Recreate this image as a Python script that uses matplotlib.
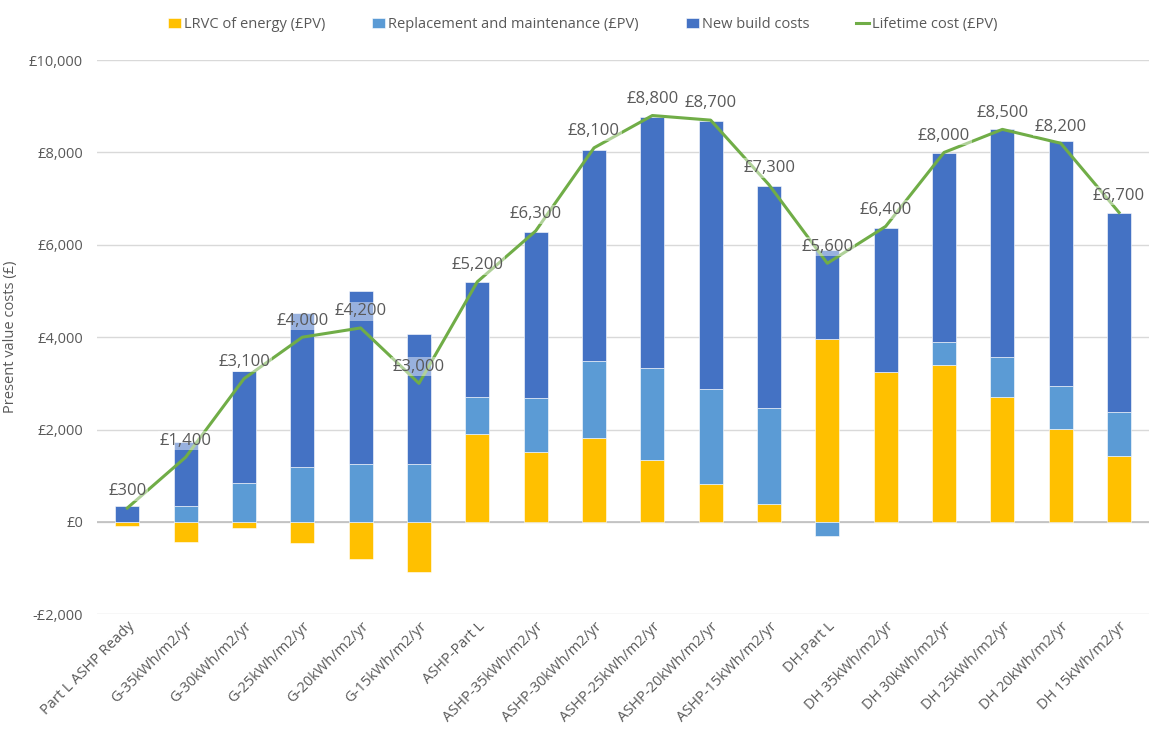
import numpy as np
import matplotlib
matplotlib.use("Agg")
import matplotlib.pyplot as plt
from matplotlib.ticker import FuncFormatter

plt.rcParams['font.family'] = ['Open Sans', 'DejaVu Sans']

categories = ["Part L ASHP Ready", "G-35kWh/m2/yr", "G-30kWh/m2/yr", "G-25kWh/m2/yr",
              "G-20kWh/m2/yr", "G-15kWh/m2/yr", "ASHP-Part L", "ASHP-35kWh/m2/yr",
              "ASHP-30kWh/m2/yr", "ASHP-25kWh/m2/yr", "ASHP-20kWh/m2/yr", "ASHP-15kWh/m2/yr",
              "DH-Part L", "DH 35kWh/m2/yr", "DH 30kWh/m2/yr", "DH 25kWh/m2/yr",
              "DH 20kWh/m2/yr", "DH 15kWh/m2/yr"]

lrvc = [-80, -425, -130, -455, -795, -1080, 1905, 1520, 1825, 1340, 815, 395,
        3960, 3240, 3390, 2715, 2005, 1435]
replacement = [0, 350, 850, 1190, 1260, 1260, 795, 1160, 1660, 1995, 2065, 2075,
               -300, 0, 510, 855, 940, 940]
new_build = [350, 1390, 2425, 3335, 3740, 2800, 2490, 3600, 4570, 5440, 5800, 4805,
             1930, 3125, 4090, 4930, 5295, 4310]
lifetime = [300, 1400, 3100, 4000, 4200, 3000, 5200, 6300, 8100, 8800, 8700, 7300,
            5600, 6400, 8000, 8500, 8200, 6700]

series = [
    ("LRVC of energy (£PV)", lrvc, "#FFC000"),
    ("Replacement and maintenance (£PV)", replacement, "#5B9BD5"),
    ("New build costs", new_build, "#4472C4"),
]

text_col = "#595959"
fig = plt.figure(figsize=(11.54, 7.33), dpi=100)
ax = fig.add_axes([0.084, 0.162, 0.912, 0.756])

x = np.arange(len(categories))
pos_base = np.zeros(len(categories))
neg_base = np.zeros(len(categories))
handles = []
for name, vals, col in series:
    vals = np.array(vals, dtype=float)
    bottoms = np.where(vals >= 0, pos_base, neg_base)
    h = ax.bar(x, vals, bottom=bottoms, width=0.41, color=col, label=name,
               edgecolor="white", linewidth=0.4, zorder=2)
    handles.append(h)
    pos_base += np.where(vals >= 0, vals, 0)
    neg_base += np.where(vals < 0, vals, 0)

line, = ax.plot(x, lifetime, color="#70AD47", linewidth=2.2, label="Lifetime cost (£PV)", zorder=3)
handles.append(line)

for xi, v in zip(x, lifetime):
    ax.annotate(f"£{v:,}", (xi, v), xytext=(0, 12), textcoords="offset points",
                ha="center", va="center", fontsize=12, color=text_col, zorder=4,
                bbox=dict(boxstyle="square,pad=0.1", fc="white", ec="none", alpha=0.45))

ax.set_xlim(-0.52, len(categories) - 0.48)
ax.set_ylim(-2000, 10000)
ax.set_yticks(np.arange(-2000, 10001, 2000))
ax.yaxis.set_major_formatter(FuncFormatter(lambda v, p: f"-£{abs(v):,.0f}" if v < 0 else f"£{v:,.0f}"))
ax.grid(axis="y", color="#D9D9D9", linewidth=1, zorder=0)
ax.axhline(0, color="#BFBFBF", linewidth=1.2, zorder=1)
ax.set_axisbelow(True)
for s in ax.spines.values():
    s.set_visible(False)
ax.tick_params(length=0, colors=text_col, labelsize=10.5)
ax.tick_params(axis="y", pad=10)
ax.set_xticks(x)
ax.set_xticklabels(categories, rotation=45, ha="right", rotation_mode="anchor")
ax.set_ylabel("Present value costs (£)", color=text_col, fontsize=10.5, labelpad=8)

fig.legend(handles=handles, loc="upper center", bbox_to_anchor=(0.505, 0.995), ncol=4,
           frameon=False, fontsize=10.5, labelcolor=text_col, handlelength=0.9,
           handletextpad=0.2, columnspacing=3.2)

fig.savefig("out.png", dpi=100)
